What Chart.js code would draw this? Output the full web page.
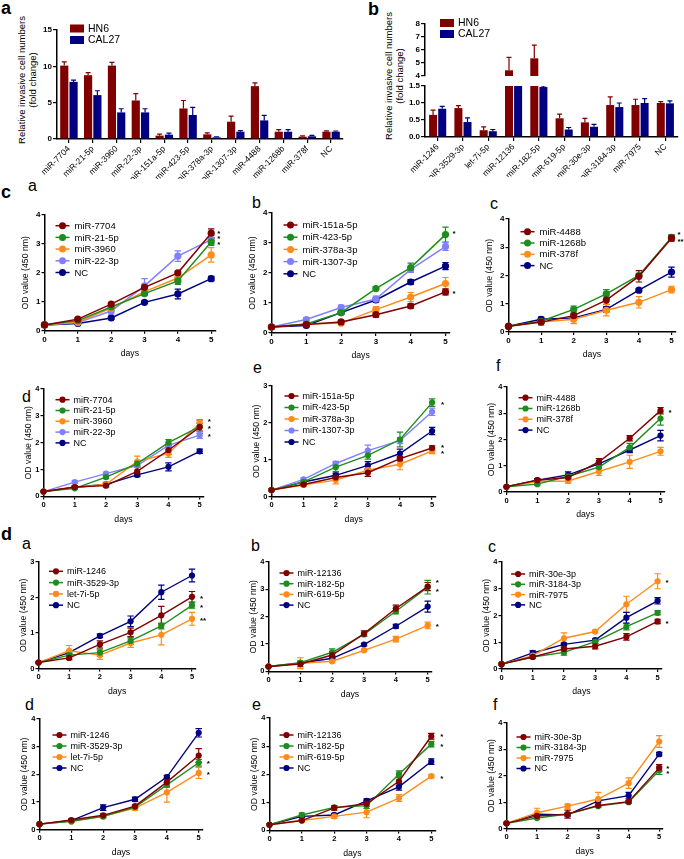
<!DOCTYPE html>
<html>
<head>
<meta charset="utf-8">
<script src="https://cdn.jsdelivr.net/npm/chart.js@4.4.1/dist/chart.umd.min.js"></script>
<style>
  body { margin: 0; background: #fff; width: 684px; height: 859px; position: relative; overflow: hidden;
         font-family: "Liberation Sans", Arial, sans-serif; color: #000; }
  .lab { position: absolute; line-height: 1; }
  .main { font-weight: bold; font-size: 18px; }
  .sub { font-size: 16px; }
  .ytitle { position: absolute; white-space: nowrap; text-align: center; font-size: 9.5px; line-height: 11.3px;
            transform: translate(-50%, -50%) rotate(-90deg); }
</style>
</head>
<body>
<div class="lab main" style="left:1px;top:-1px">a</div>
<div class="lab main" style="left:368px;top:0px">b</div>
<div class="lab main" style="left:1px;top:183px">c</div>
<div class="lab main" style="left:1px;top:525px">d</div>

<div class="lab sub" style="left:28px;top:178px">a</div>
<div class="lab sub" style="left:252px;top:195px">b</div>
<div class="lab sub" style="left:490px;top:196px">c</div>
<div class="lab sub" style="left:22px;top:389px">d</div>
<div class="lab sub" style="left:253px;top:360px">e</div>
<div class="lab sub" style="left:496px;top:358px">f</div>
<div class="lab sub" style="left:22px;top:536px">a</div>
<div class="lab sub" style="left:251px;top:538px">b</div>
<div class="lab sub" style="left:488px;top:539px">c</div>
<div class="lab sub" style="left:25px;top:697px">d</div>
<div class="lab sub" style="left:252px;top:697px">e</div>
<div class="lab sub" style="left:493px;top:697px">f</div>

<div class="ytitle" style="left:27.4px;top:80px">Relative invasive cell numbers<br>(fold change)</div>
<div class="ytitle" style="left:394px;top:76px">Relative invasive cell numbers<br>(fold change)</div>

<script>
'use strict';
const RED = '#800000', GREEN = '#1e8c1e', ORANGE = '#ff8c1a', LILAC = '#8080ff', NAVY = '#000080';
const FONT = '"Liberation Sans", Arial, sans-serif';
const days = [0, 1, 2, 3, 4, 5];

// panel a
const aCats = ['miR-7704', 'miR-21-5p', 'miR-3960', 'miR-22-3p', 'miR-151a-5p', 'miR-423-5p',
  'miR-378a-3p', 'miR-1307-3p', 'miR-4488', 'miR-1268b', 'miR-378f', 'NC'];
const aHN6 = [10.1, 8.78, 10.1, 5.3, 0.46, 4.2, 0.64, 2.38, 7.27, 1.0, 0.32, 1.0];
const aHN6Err = [0.5, 0.35, 0.45, 0.95, 0.2, 1.1, 0.2, 0.77, 0.45, 0.28, 0.12, 0.12];
const aCAL27 = [7.86, 6.04, 3.66, 3.66, 0.6, 3.3, 0.23, 1.0, 2.56, 1.0, 0.37, 1.0];
const aCAL27Err = [0.25, 0.6, 0.5, 0.5, 0.2, 1.05, 0.08, 0.15, 0.7, 0.3, 0.13, 0.1];

// panel b
const bCats = ['miR-1246', 'miR-3529-3p', 'let-7i-5p', 'miR-12136', 'miR-182-5p', 'miR-619-5p',
  'miR-30e-3p', 'miR-3184-3p', 'miR-7975', 'NC'];
const bHN6 = [0.65, 0.85, 0.2, 4.44, 5.36, 0.55, 0.43, 0.94, 0.94, 1.0];
const bHN6Err = [0.14, 0.07, 0.1, 1.0, 1.02, 0.12, 0.12, 0.24, 0.17, 0.04];
const bCAL27 = [0.83, 0.44, 0.17, 1.55, 1.47, 0.22, 0.3, 0.88, 1.0, 0.99];
const bCAL27Err = [0.07, 0.12, 0.05, 0, 0.03, 0.06, 0.07, 0.12, 0.13, 0.07];

// panel c, HN6 growth curves
const caNames = ['miR-7704', 'miR-21-5p', 'miR-3960', 'miR-22-3p', 'NC'];
const caMeans = [[0.2, 0.4, 0.92, 1.5, 2.0, 3.37], [0.2, 0.35, 0.82, 1.28, 1.72, 3.07],
  [0.2, 0.3, 0.78, 1.35, 1.82, 2.62], [0.2, 0.28, 0.68, 1.55, 2.58, 3.15], [0.2, 0.25, 0.44, 0.98, 1.27, 1.8]];
const caErrs = [[0.02, 0.04, 0.05, 0.06, 0.06, 0.15], [0.02, 0.03, 0.05, 0.06, 0.12, 0.12],
  [0.02, 0.03, 0.08, 0.06, 0.08, 0.25], [0.02, 0.04, 0.1, 0.25, 0.18, 0.15], [0.02, 0.03, 0.05, 0.04, 0.17, 0.08]];

const cbNames = ['miR-151a-5p', 'miR-423-5p', 'miR-378a-3p', 'miR-1307-3p', 'NC'];
const cbMeans = [[0.2, 0.28, 0.37, 0.61, 0.9, 1.37], [0.2, 0.3, 0.68, 1.48, 2.18, 3.28],
  [0.2, 0.3, 0.33, 0.78, 1.2, 1.65], [0.2, 0.45, 0.85, 1.13, 2.12, 2.88], [0.2, 0.25, 0.68, 1.1, 1.7, 2.23]];
const cbErrs = [[0.02, 0.03, 0.05, 0.08, 0.07, 0.1], [0.02, 0.04, 0.06, 0.06, 0.15, 0.25],
  [0.02, 0.04, 0.06, 0.1, 0.15, 0.2], [0.02, 0.06, 0.08, 0.1, 0.08, 0.13], [0.02, 0.04, 0.05, 0.06, 0.08, 0.12]];

const ccNames = ['miR-4488', 'miR-1268b', 'miR-378f', 'NC'];
const ccMeans = [[0.2, 0.35, 0.58, 1.13, 1.97, 3.32], [0.2, 0.38, 0.8, 1.35, 2.0, 3.35],
  [0.2, 0.35, 0.45, 0.77, 1.05, 1.5], [0.2, 0.45, 0.5, 0.8, 1.48, 2.12]];
const ccErrs = [[0.02, 0.05, 0.06, 0.15, 0.2, 0.1], [0.02, 0.05, 0.12, 0.15, 0.08, 0.1],
  [0.02, 0.12, 0.15, 0.2, 0.2, 0.12], [0.02, 0.08, 0.06, 0.1, 0.06, 0.18]];

// panel c, CAL27 growth curves
const cdMeans = [[0.18, 0.35, 0.4, 0.93, 1.72, 2.58], [0.18, 0.3, 0.72, 1.22, 2.0, 2.6],
  [0.18, 0.33, 0.45, 1.3, 1.6, 2.72], [0.18, 0.53, 0.85, 1.15, 1.9, 2.28], [0.18, 0.33, 0.45, 0.8, 1.1, 1.68]];
const cdErrs = [[0.02, 0.04, 0.05, 0.15, 0.15, 0.15], [0.02, 0.04, 0.06, 0.08, 0.12, 0.25],
  [0.02, 0.04, 0.08, 0.2, 0.15, 0.1], [0.02, 0.05, 0.05, 0.06, 0.06, 0.12], [0.02, 0.04, 0.05, 0.06, 0.15, 0.08]];

const ceMeans = [[0.18, 0.33, 0.52, 0.65, 1.03, 1.32], [0.18, 0.4, 0.8, 1.12, 1.55, 2.55],
  [0.18, 0.32, 0.45, 0.72, 0.88, 1.24], [0.18, 0.47, 0.9, 1.25, 1.52, 2.3], [0.18, 0.4, 0.58, 0.85, 1.17, 1.78]];
const ceErrs = [[0.02, 0.04, 0.06, 0.1, 0.06, 0.06], [0.02, 0.04, 0.12, 0.1, 0.2, 0.1],
  [0.02, 0.04, 0.1, 0.08, 0.15, 0.07], [0.02, 0.04, 0.06, 0.15, 0.08, 0.1], [0.02, 0.04, 0.06, 0.1, 0.12, 0.1]];

const cfMeans = [[0.2, 0.45, 0.55, 1.15, 2.05, 3.1], [0.2, 0.3, 0.6, 0.95, 1.7, 2.8],
  [0.2, 0.4, 0.42, 0.78, 1.15, 1.55], [0.2, 0.45, 0.65, 1.07, 1.6, 2.15]];
const cfErrs = [[0.02, 0.05, 0.06, 0.12, 0.1, 0.12], [0.02, 0.04, 0.05, 0.06, 0.15, 0.25],
  [0.02, 0.05, 0.08, 0.15, 0.25, 0.15], [0.02, 0.05, 0.12, 0.06, 0.1, 0.2]];

// panel d, HN6 growth curves
const daNames = ['miR-1246', 'miR-3529-3p', 'let-7i-5p', 'NC'];
const daMeans = [[0.17, 0.3, 0.68, 1.02, 1.5, 2.02], [0.17, 0.38, 0.45, 0.78, 1.2, 1.78],
  [0.17, 0.5, 0.38, 0.72, 0.95, 1.4], [0.17, 0.45, 0.92, 1.33, 2.15, 2.62]];
const daErrs = [[0.02, 0.05, 0.1, 0.12, 0.25, 0.15], [0.02, 0.04, 0.1, 0.1, 0.08, 0.08],
  [0.02, 0.15, 0.12, 0.12, 0.28, 0.18], [0.02, 0.04, 0.05, 0.15, 0.2, 0.18]];

const dbNames = ['miR-12136', 'miR-182-5p', 'miR-619-5p', 'NC'];
const dbMeans = [[0.18, 0.27, 0.6, 1.38, 2.3, 3.1], [0.18, 0.32, 0.7, 1.35, 2.2, 3.08],
  [0.18, 0.3, 0.37, 0.77, 1.18, 1.68], [0.18, 0.3, 0.48, 0.98, 1.65, 2.37]];
const dbErrs = [[0.02, 0.1, 0.12, 0.1, 0.12, 0.15], [0.02, 0.05, 0.12, 0.06, 0.1, 0.25],
  [0.02, 0.2, 0.05, 0.05, 0.1, 0.12], [0.02, 0.04, 0.05, 0.05, 0.07, 0.2]];

const dcNames = ['miR-30e-3p', 'miR-3184-3p', 'miR-7975', 'NC'];
const dcMeans = [[0.18, 0.45, 0.75, 0.85, 1.2, 1.78], [0.18, 0.45, 0.62, 1.02, 1.58, 2.1],
  [0.18, 0.5, 1.15, 1.4, 2.42, 3.28], [0.18, 0.6, 0.92, 1.08, 1.92, 2.55]];
const dcErrs = [[0.02, 0.05, 0.06, 0.1, 0.12, 0.08], [0.02, 0.04, 0.1, 0.05, 0.12, 0.08],
  [0.02, 0.05, 0.2, 0.05, 0.3, 0.28], [0.02, 0.08, 0.05, 0.05, 0.2, 0.12]];

// panel d, CAL27 growth curves
const ddMeans = [[0.2, 0.35, 0.52, 0.85, 1.72, 2.68], [0.2, 0.3, 0.48, 0.82, 1.62, 2.42],
  [0.2, 0.3, 0.48, 0.78, 1.35, 2.05], [0.2, 0.33, 0.8, 1.1, 1.9, 3.5]];
const ddErrs = [[0.02, 0.04, 0.05, 0.05, 0.15, 0.25], [0.02, 0.04, 0.05, 0.05, 0.08, 0.12],
  [0.02, 0.04, 0.05, 0.08, 0.35, 0.2], [0.02, 0.04, 0.1, 0.08, 0.06, 0.15]];

const deMeans = [[0.2, 0.35, 0.8, 0.95, 1.75, 3.35], [0.2, 0.55, 0.82, 0.88, 2.0, 3.07],
  [0.2, 0.35, 0.5, 0.65, 1.15, 1.93], [0.2, 0.5, 0.55, 1.05, 1.55, 2.45]];
const deErrs = [[0.02, 0.04, 0.08, 0.1, 0.15, 0.1], [0.02, 0.07, 0.05, 0.1, 0.12, 0.1],
  [0.02, 0.04, 0.07, 0.2, 0.12, 0.06], [0.02, 0.04, 0.05, 0.07, 0.12, 0.1]];

const dfMeans = [[0.2, 0.48, 0.55, 0.88, 1.02, 2.3], [0.2, 0.4, 0.55, 0.85, 1.0, 2.2],
  [0.2, 0.6, 0.85, 1.12, 1.72, 3.3], [0.2, 0.55, 0.52, 1.05, 1.25, 2.82]];
const dfErrs = [[0.02, 0.05, 0.15, 0.05, 0.05, 0.12], [0.02, 0.04, 0.05, 0.05, 0.05, 0.15],
  [0.02, 0.17, 0.08, 0.25, 0.2, 0.22], [0.02, 0.05, 0.05, 0.05, 0.12, 0.07]];

Chart.defaults.font.family = FONT;
Chart.defaults.color = '#000';
Chart.defaults.animation = false;

// legend drawn inside the plot like the GraphPad one
const miniLegend = {
  id: 'miniLegend',
  afterDraw(chart, args, o) {
    if (!o || !o.show) return;
    const ctx = chart.ctx, a = chart.chartArea;
    ctx.save();
    ctx.font = o.size + 'px ' + FONT;
    ctx.textBaseline = 'middle';
    chart.data.datasets.forEach((ds, i) => {
      const x = a.left + o.dx, y = a.top + o.dy + i * o.gap;
      const c = ds.legendColor || ds.borderColor;
      if (o.box) {
        ctx.fillStyle = c;
        ctx.fillRect(x, y - 4, 14, 8);
      } else {
        ctx.strokeStyle = c; ctx.lineWidth = 1.5;
        ctx.beginPath(); ctx.moveTo(x, y); ctx.lineTo(x + 14, y); ctx.stroke();
        ctx.fillStyle = c;
        ctx.beginPath(); ctx.arc(x + 7, y, o.r, 0, Math.PI * 2); ctx.fill();
      }
      ctx.fillStyle = '#000';
      ctx.fillText(ds.label, x + o.tx, y + 0.5);
    });
    ctx.restore();
  }
};

function drawErr(chart, o) {
  const ctx = chart.ctx, a = chart.chartArea, ys = chart.scales.y;
  ctx.save();
  ctx.beginPath(); ctx.rect(a.left - 12, a.top, a.right - a.left + 24, a.bottom - a.top); ctx.clip();
  chart.data.datasets.forEach((ds, di) => {
    if (!ds.err) return;
    const meta = chart.getDatasetMeta(di);
    const c = ds.legendColor || ds.borderColor;
    ctx.strokeStyle = c; ctx.lineWidth = o.lw;
    meta.data.forEach((el, i) => {
      const e = ds.err[i];
      if (!e) return;
      const raw = ds.data[i];
      const v = typeof raw === 'number' ? raw : raw.y;
      const top = ys.getPixelForValue(v + e);
      const bot = o.upOnly ? el.y : ys.getPixelForValue(v - e);
      ctx.beginPath();
      ctx.moveTo(el.x, bot); ctx.lineTo(el.x, top);
      ctx.moveTo(el.x - o.cap, top); ctx.lineTo(el.x + o.cap, top);
      if (!o.upOnly) { ctx.moveTo(el.x - o.cap, bot); ctx.lineTo(el.x + o.cap, bot); }
      ctx.stroke();
    });
  });
  ctx.restore();
}

const errBars = {
  id: 'errBars',
  beforeDatasetsDraw(chart, args, o) { if (o && o.before) drawErr(chart, o); },
  afterDatasetsDraw(chart, args, o) { if (o && o.after) drawErr(chart, o); }
};

const stars = {
  id: 'stars',
  afterDraw(chart, args, o) {
    if (!o || !o.list) return;
    const ctx = chart.ctx, xs = chart.scales.x, ys = chart.scales.y;
    ctx.save();
    ctx.font = 'bold 8px ' + FONT;
    ctx.fillStyle = '#000';
    ctx.textBaseline = 'middle';
    o.list.forEach(s => {
      ctx.fillText(s[1], xs.getPixelForValue(5) + o.dx, ys.getPixelForValue(s[0]) + 2);
    });
    ctx.restore();
  }
};

function addCanvas(left, top, w, h) {
  const cv = document.createElement('canvas');
  cv.width = Math.ceil(w); cv.height = Math.ceil(h);
  cv.style.cssText = 'position:absolute;left:' + left + 'px;top:' + top + 'px;width:' + cv.width + 'px;height:' + cv.height + 'px';
  document.body.appendChild(cv);
  return cv;
}

function axisStyle(size) {
  return {
    grid: { display: true, drawOnChartArea: false, drawTicks: true, tickLength: 3, color: '#000', lineWidth: 1.2 },
    border: { display: true, color: '#000', width: 1.5 },
    ticks: { color: '#000', font: { size: size, weight: 'bold' }, padding: 1, autoSkip: false, maxRotation: 0 }
  };
}

function lineChart(o) {
  const big = !!o.big;
  const Wy = big ? 24.5 : 20.5, Hx = 28, padT = 8;
  const plotW = (o.x5 - o.x0) * 5.12 / 5, plotH = o.yBot - o.yTop;
  const cv = addCanvas(o.x0 - Wy, o.yTop - padT, Wy + plotW + 22, padT + plotH + Hx);
  const padR = cv.width - Wy - plotW, padB = cv.height - padT - plotH - Hx;
  const tick = big ? 8 : 7.5;
  const xAx = axisStyle(tick), yAx = axisStyle(tick);
  new Chart(cv, {
    type: 'line',
    data: {
      datasets: o.names.map((n, i) => ({
        label: n,
        data: o.means[i].map((v, k) => ({ x: days[k], y: v })),
        err: o.errs[i],
        borderColor: o.colors[i], backgroundColor: o.colors[i],
        borderWidth: big ? 1.5 : 1.4, pointRadius: big ? 3.6 : 3.1, pointHoverRadius: 0,
        pointBorderWidth: 0, tension: 0, clip: false
      }))
    },
    options: {
      responsive: false, maintainAspectRatio: false,
      events: [],
      layout: { padding: { top: padT, right: padR, bottom: padB, left: 0 } },
      scales: {
        x: Object.assign(xAx, {
          type: 'linear', min: 0, max: 5.12,
          afterBuildTicks: s => { s.ticks = days.map(v => ({ value: v })); },
          afterFit: s => { s.height = Hx; },
          title: { display: true, text: 'days', color: '#000', font: { size: 8.7 }, padding: 0 }
        }),
        y: Object.assign(yAx, {
          min: 0, max: o.yMax,
          afterBuildTicks: s => { s.ticks = []; for (let v = 0; v <= o.yMax; v++) s.ticks.push({ value: v }); },
          afterFit: s => { s.width = Wy; },
          title: { display: true, text: 'OD value (450 nm)', color: '#000', font: { size: 8.7 }, padding: 0 }
        })
      },
      plugins: {
        legend: { display: false }, tooltip: { enabled: false },
        miniLegend: { show: true, dx: o.leg[0], dy: o.leg[1], gap: o.leg[2], size: big ? 9.5 : 9, r: big ? 3.5 : 3.1, tx: big ? 19 : 18 },
        errBars: { before: true, lw: 1.2, cap: 3.2 },
        stars: { list: o.stars, dx: o.starDx }
      }
    },
    plugins: [errBars, miniLegend, stars]
  });
}

function barChart(o) {
  const plotW = o.x1 - o.x0, plotH = o.yBot - o.yTop;
  const cv = addCanvas(o.x0 - o.Wy, o.yTop - o.padT, o.Wy + plotW + o.padR, o.padT + plotH + o.Hx + o.padB);
  const padR = cv.width - o.Wy - plotW, padB = cv.height - o.padT - plotH - o.Hx;
  const xAx = axisStyle(8), yAx = axisStyle(8);
  xAx.grid.offset = false;
  xAx.grid.tickLength = 4;
  yAx.grid.tickLength = 4;
  xAx.ticks = { color: '#000', font: { size: 8.5 }, padding: 1, autoSkip: false, minRotation: 45, maxRotation: 45 };
  new Chart(cv, {
    type: 'bar',
    data: {
      labels: o.cats,
      datasets: o.sets.map(s => ({
        label: s.label, data: s.data, err: s.err, backgroundColor: s.color, legendColor: s.color,
        borderWidth: 0, categoryPercentage: o.catPct, barPercentage: 0.88, clip: 0
      }))
    },
    options: {
      responsive: false, maintainAspectRatio: false,
      events: [],
      layout: { padding: { top: o.padT, right: padR, bottom: padB, left: 0 } },
      scales: {
        x: Object.assign(xAx, {
          display: o.showX,
          afterFit: s => { s.height = o.Hx; }
        }),
        y: Object.assign(yAx, {
          min: o.yMin, max: o.yMax,
          ticks: Object.assign(yAx.ticks, { stepSize: o.step, callback: o.fmt }),
          afterFit: s => { s.width = o.Wy; }
        })
      },
      plugins: {
        legend: { display: false }, tooltip: { enabled: false },
        miniLegend: o.leg ? { show: true, box: true, dx: o.leg[0], dy: o.leg[1], gap: o.leg[2], size: 10.5, tx: 18 } : { show: false },
        errBars: { after: true, upOnly: true, lw: 1.2, cap: 2.5 }
      }
    },
    plugins: [errBars, miniLegend]
  });
}

// a
barChart({
  cats: aCats,
  sets: [{ label: 'HN6', data: aHN6, err: aHN6Err, color: RED }, { label: 'CAL27', data: aCAL27, err: aCAL27Err, color: NAVY }],
  x0: 57, x1: 343, yTop: 30, yBot: 139, yMin: 0, yMax: 15, step: 5, fmt: v => v,
  Wy: 20, padT: 12, padR: 6, padB: 0, Hx: 40, showX: true, catPct: 0.78, leg: [13, -1.5, 11.5]
});

// b, upper part of the broken axis
barChart({
  cats: bCats,
  sets: [{ label: 'HN6', data: bHN6, err: bHN6Err, color: RED }, { label: 'CAL27', data: bCAL27, err: bCAL27Err, color: NAVY }],
  x0: 425, x1: 678, yTop: 24, yBot: 76, yMin: 4, yMax: 8, step: 1, fmt: v => v,
  Wy: 22, padT: 12, padR: 4, padB: 6, Hx: 0, showX: false, catPct: 0.72, leg: [15, -1, 11]
});
// b, lower part
barChart({
  cats: bCats,
  sets: [{ label: 'HN6', data: bHN6, err: bHN6Err, color: RED }, { label: 'CAL27', data: bCAL27, err: bCAL27Err, color: NAVY }],
  x0: 425, x1: 678, yTop: 86, yBot: 137, yMin: 0, yMax: 1.5, step: 0.5, fmt: v => Number(v).toFixed(1),
  Wy: 22, padT: 6, padR: 4, padB: 0, Hx: 40, showX: true, catPct: 0.72, leg: null
});

const col5 = [RED, GREEN, ORANGE, LILAC, NAVY];
const col4 = [RED, GREEN, ORANGE, NAVY];

lineChart({ big: true, x0: 44.3, x5: 211, yTop: 215, yBot: 330.7, yMax: 4, names: caNames, colors: col5,
  means: caMeans, errs: caErrs, leg: [11, 10.7, 11.7], stars: [[3.42, '*'], [3.23, '*'], [3.04, '*']], starDx: 6 });
lineChart({ big: true, x0: 271, x5: 445, yTop: 213, yBot: 333, yMax: 4, names: cbNames, colors: col5,
  means: cbMeans, errs: cbErrs, leg: [12, 12, 12.2], stars: [[3.37, '*'], [1.39, '*']], starDx: 7 });
lineChart({ big: true, x0: 508, x5: 671, yTop: 219, yBot: 332, yMax: 4, names: ccNames, colors: col4,
  means: ccMeans, errs: ccErrs, leg: [12, 12.7, 11.3], stars: [[3.5, '*'], [3.28, '**']], starDx: 6 });

lineChart({ x0: 43.6, x5: 199.8, yTop: 389.3, yBot: 496.7, yMax: 4, names: caNames, colors: col5,
  means: cdMeans, errs: cdErrs, leg: [12, 10.7, 10.8], stars: [[2.85, '*'], [2.6, '*'], [2.3, '*']], starDx: 8 });
lineChart({ x0: 271.3, x5: 431.9, yTop: 386, yBot: 496.7, yMax: 3, names: cbNames, colors: col5,
  means: ceMeans, errs: ceErrs, leg: [13, 10, 11.5], stars: [[2.55, '*'], [1.37, '*'], [1.22, '*']], starDx: 9 });
lineChart({ x0: 506.9, x5: 660.9, yTop: 387.3, yBot: 492.3, yMax: 4, names: ccNames, colors: col4,
  means: cfMeans, errs: cfErrs, leg: [12, 10.7, 10.8], stars: [[3.1, '*']], starDx: 8 });

lineChart({ x0: 38.4, x5: 191.9, yTop: 561.7, yBot: 668.3, yMax: 3, names: daNames, colors: col4,
  means: daMeans, errs: daErrs, leg: [10.5, 9.3, 11.3], stars: [[2.02, '*'], [1.78, '*'], [1.4, '**']], starDx: 8 });
lineChart({ x0: 268.3, x5: 427.5, yTop: 562.3, yBot: 671.7, yMax: 4, names: dbNames, colors: col4,
  means: dbMeans, errs: dbErrs, leg: [11, 11, 10.7], stars: [[3.3, '*'], [3.0, '*'], [1.72, '*']], starDx: 8 });
lineChart({ x0: 501.7, x5: 657.8, yTop: 562.3, yBot: 669.3, yMax: 4, names: dcNames, colors: col4,
  means: dcMeans, errs: dcErrs, leg: [9.6, 12, 10.3], stars: [[3.28, '*'], [1.78, '*']], starDx: 8 });

lineChart({ x0: 39.3, x5: 198.5, yTop: 719.3, yBot: 830, yMax: 4, names: daNames, colors: col4,
  means: ddMeans, errs: ddErrs, leg: [13, 16, 11], stars: [[2.45, '*'], [2.05, '*']], starDx: 8 });
lineChart({ x0: 269.2, x5: 431, yTop: 718.3, yBot: 830.7, yMax: 4, names: dbNames, colors: col4,
  means: deMeans, errs: deErrs, leg: [10, 17, 11], stars: [[3.4, '*'], [3.05, '*'], [1.92, '*']], starDx: 9 });
lineChart({ x0: 506.9, x5: 659.6, yTop: 722.7, yBot: 828.3, yMax: 4, names: dcNames, colors: col4,
  means: dfMeans, errs: dfErrs, leg: [10, 14, 10.5], stars: [[2.35, '*'], [2.15, '*']], starDx: 7 });
</script>
</body>
</html>
